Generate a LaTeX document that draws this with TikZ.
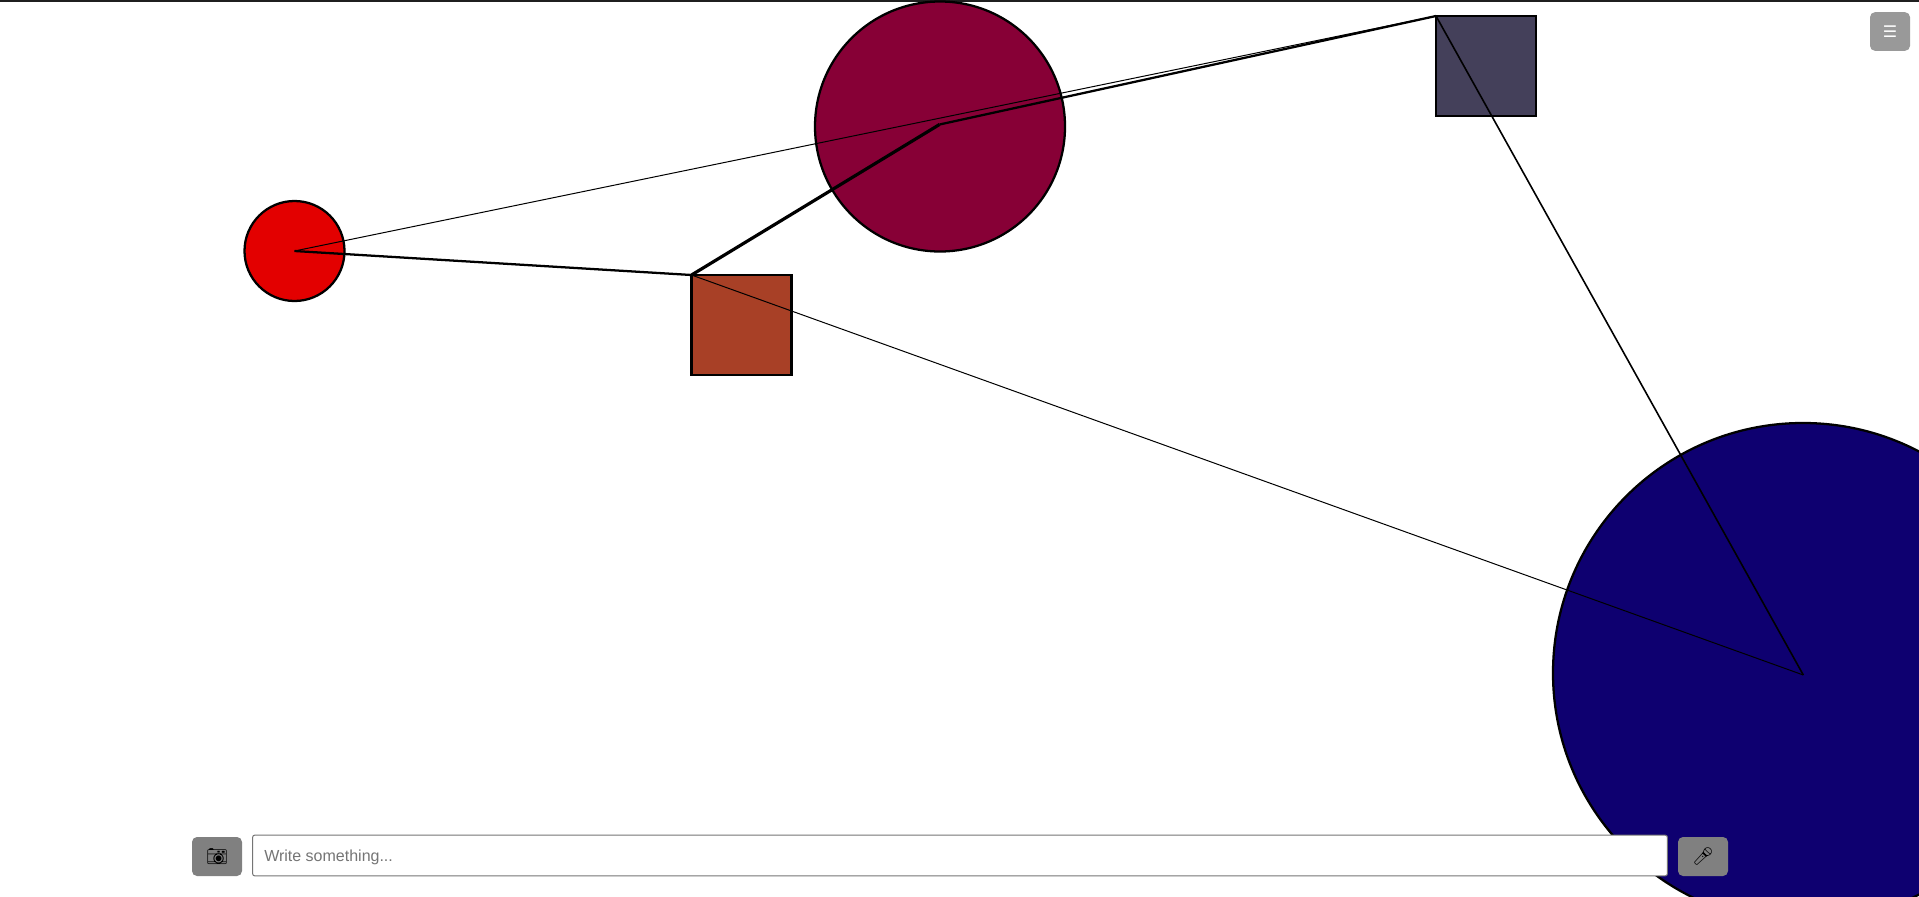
\documentclass[tikz,border=0pt]{standalone}
\usepackage{fontspec}
\setmainfont{Liberation Sans}
\newfontfamily\emojifont{Noto Emoji}
\newfontfamily\symbfont{DejaVu Sans}
\definecolor{spotred}{HTML}{E30000}
\definecolor{spotwine}{HTML}{870036}
\definecolor{spotnavy}{HTML}{0E0070}
\definecolor{boxrust}{HTML}{A84026}
\definecolor{boxslate}{HTML}{44405A}
\definecolor{hintgray}{HTML}{757575}
\tikzset{
    spot/.style={circle, draw=black, line width=1.7pt, inner sep=0pt, outer sep=0pt},
    square/.style={rectangle, draw=black, line width=1.7pt, inner sep=0pt, outer sep=0pt, minimum size=75pt},
    toolbtn/.style={rectangle, rounded corners=3.75pt, inner sep=0pt, outer sep=0pt, minimum height=29.25pt, minimum width=37.5pt}
}
\begin{document}
\begin{tikzpicture}[x=0.75pt, y=-0.75pt]

    \useasboundingbox (0,0) rectangle (1919,896);
    \fill[white] (0,0) rectangle (1919,896);

    % === TOP EDGE ===
    \fill[black!88] (0,0) rectangle (1919,2);

    % === CIRCLES ===
    \node[spot, fill=spotred, minimum size=75pt] (redspot) at (294.5,251) {};
    \node[spot, fill=spotwine, minimum size=187.5pt] (winespot) at (940,126.5) {};
    \node[spot, fill=spotnavy, minimum size=375pt] (navyspot) at (1803,673) {};

    % === SQUARES ===
    \node[square, fill=boxrust] (rustbox) at (741.5,325) {};
    \node[square, fill=boxslate] (slatebox) at (1486,66) {};

    % === LINE ENDS ===
    \coordinate (winehub) at (939.5,124.5);
    \coordinate (navyhub) at (1803.3,675);

    % === LINES ===
    \draw[line width=0.75pt] (redspot.center) -- (slatebox.north west);
    \draw[line width=1.2pt] (slatebox.north west) -- (navyhub);
    \draw[line width=0.75pt] (navyhub) -- (rustbox.north west);
    \draw[line width=1.7pt] (rustbox.north west) -- (redspot.center);
    \draw[line width=2.4pt] (rustbox.north west) -- (winehub);
    \draw[line width=1.7pt] (winehub) -- (slatebox.north west);

    % === MENU BUTTON ===
    \node[toolbtn, fill=black!40, text=white, minimum height=29pt, minimum width=30pt] (menubtn) at (1890,31.5) {\symbfont\fontsize{12pt}{12pt}\selectfont ☰};

    % === BOTTOM BAR ===
    \node[toolbtn, fill=black!50] (camerabtn) at (217,856.5) {\emojifont\fontsize{13pt}{13pt}\selectfont 📷};
    \node[rectangle, rounded corners=1.5pt, draw=black!54, line width=0.75pt, fill=white, inner sep=0pt, outer sep=0pt, minimum width=1061pt, minimum height=30.5pt] (writebox) at (960,855.5) {};
    \node[anchor=west, inner sep=0pt, text=hintgray, font=\fontsize{12pt}{12pt}\selectfont] (writehint) at (264,857.5) {Write something...};
    \node[toolbtn, fill=black!50] (micbtn) at (1703,856.5) {\emojifont\fontsize{13pt}{13pt}\selectfont 🎤};

\end{tikzpicture}
\end{document}
